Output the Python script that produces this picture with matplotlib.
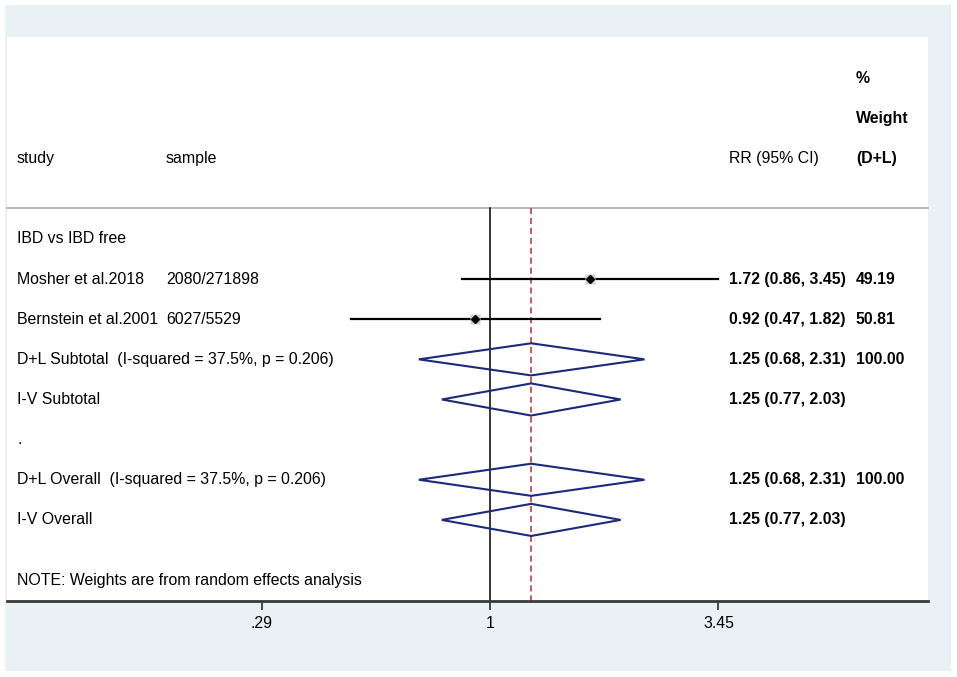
import numpy as np
import matplotlib.pyplot as plt
from matplotlib.patches import Rectangle, Polygon
from matplotlib.transforms import blended_transform_factory

plt.rcParams['font.family'] = ['Liberation Sans', 'DejaVu Sans']

# studies
study_names = ['Mosher et al.2018', 'Bernstein et al.2001']
study_samples = ['2080/271898', '6027/5529']
study_rr = [1.72, 0.92]
study_lo = [0.86, 0.47]
study_hi = [3.45, 1.82]
study_weight = [49.19, 50.81]

# pooled estimates
pooled_labels = ['D+L Subtotal  (I-squared = 37.5%, p = 0.206)', 'I-V Subtotal',
                 'D+L Overall  (I-squared = 37.5%, p = 0.206)', 'I-V Overall']
pooled_rr = [1.25, 1.25, 1.25, 1.25]
pooled_lo = [0.68, 0.77, 0.68, 0.77]
pooled_hi = [2.31, 2.03, 2.31, 2.03]
pooled_weight = ['100.00', '', '100.00', '']

overall_rr = 1.25
tick_vals = [0.29, 1, 3.45]
tick_labels = ['.29', '1', '3.45']

W, H = 957, 677
fig = plt.figure(figsize=(W / 100, H / 100), dpi=100, facecolor='white')
bg = '#e9f1f4'
fig.patches.append(Rectangle((5 / W, 1 - 671 / H), 946 / W, 666 / H,
                             transform=fig.transFigure, facecolor=bg,
                             edgecolor='none', zorder=-10))

ax = fig.add_axes([7 / W, 1 - 601 / H, 921 / W, 564 / H])
ax.set_facecolor('white')
ax.set_xscale('log')
k = 184.5
ax.set_xlim(np.exp((7 - 490) / k), np.exp((928 - 490) / k))
ax.set_ylim(9.02, -5.03)

fs = 11.4
tr = blended_transform_factory(ax.transAxes, ax.transData)
x_study, x_sample, x_rr, x_w = 0.0109, 0.1726, 0.7839, 0.9218

# header
ax.text(x_study, -2, 'study', transform=tr, va='center', fontsize=fs)
ax.text(x_sample, -2, 'sample', transform=tr, va='center', fontsize=fs)
ax.text(x_rr, -2, 'RR (95% CI)', transform=tr, va='center', fontsize=fs)
ax.text(x_w, -4, '%', transform=tr, va='center', fontsize=fs, fontweight='bold')
ax.text(x_w, -3, 'Weight', transform=tr, va='center', fontsize=fs, fontweight='bold')
ax.text(x_w, -2, '(D+L)', transform=tr, va='center', fontsize=fs, fontweight='bold')
ax.plot([0, 1], [-0.77, -0.77], transform=tr, color='#b4b4b4', lw=1.3, clip_on=False)

# reference lines
ax.plot([1, 1], [-0.77, 9.02], color='black', lw=1.1)
ax.plot([overall_rr, overall_rr], [-0.77, 9.02], color='#a4343a', lw=1.1,
        dashes=(4, 2.5))

ax.text(x_study, 0, 'IBD vs IBD free', transform=tr, va='center', fontsize=fs)

for i in range(len(study_names)):
    y = i + 1
    ax.plot([study_lo[i], study_hi[i]], [y, y], color='black', lw=1.6, zorder=3)
    ax.plot(study_rr[i], y, marker='s', ms=6.5, color='#cfcfcf', mec='none', zorder=4)
    ax.plot(study_rr[i], y, marker='D', ms=4.2, color='black', zorder=5)
    ax.text(x_study, y, study_names[i], transform=tr, va='center', fontsize=fs)
    ax.text(x_sample, y, study_samples[i], transform=tr, va='center', fontsize=fs)
    ax.text(x_rr, y, f'{study_rr[i]:.2f} ({study_lo[i]:.2f}, {study_hi[i]:.2f})',
            transform=tr, va='center', fontsize=fs, fontweight='bold')
    ax.text(x_w, y, f'{study_weight[i]:.2f}', transform=tr, va='center',
            fontsize=fs, fontweight='bold')

pooled_rows = [3, 4, 6, 7]
for j, y in enumerate(pooled_rows):
    d = Polygon([(pooled_lo[j], y), (pooled_rr[j], y - 0.4),
                 (pooled_hi[j], y), (pooled_rr[j], y + 0.4)],
                closed=True, fill=False, edgecolor='#1c2a78', lw=1.5, zorder=4)
    ax.add_patch(d)
    ax.text(x_study, y, pooled_labels[j], transform=tr, va='center', fontsize=fs)
    ax.text(x_rr, y, f'{pooled_rr[j]:.2f} ({pooled_lo[j]:.2f}, {pooled_hi[j]:.2f})',
            transform=tr, va='center', fontsize=fs, fontweight='bold')
    if pooled_weight[j]:
        ax.text(x_w, y, pooled_weight[j], transform=tr, va='center',
                fontsize=fs, fontweight='bold')

ax.text(x_study, 5, '.', transform=tr, va='center', fontsize=fs)
ax.text(x_study, 8.52, 'NOTE: Weights are from random effects analysis',
        transform=tr, va='center', fontsize=fs)

for s in ['top', 'left', 'right']:
    ax.spines[s].set_visible(False)
ax.spines['bottom'].set_color('#3a3a3a')
ax.spines['bottom'].set_linewidth(2)
ax.set_yticks([])
ax.set_xticks(tick_vals)
ax.set_xticklabels(tick_labels)
ax.xaxis.set_minor_locator(plt.NullLocator())
ax.tick_params(axis='x', length=6.5, width=1.3, color='#3a3a3a', labelsize=fs, pad=4)

fig.savefig('out.png', dpi=100)
